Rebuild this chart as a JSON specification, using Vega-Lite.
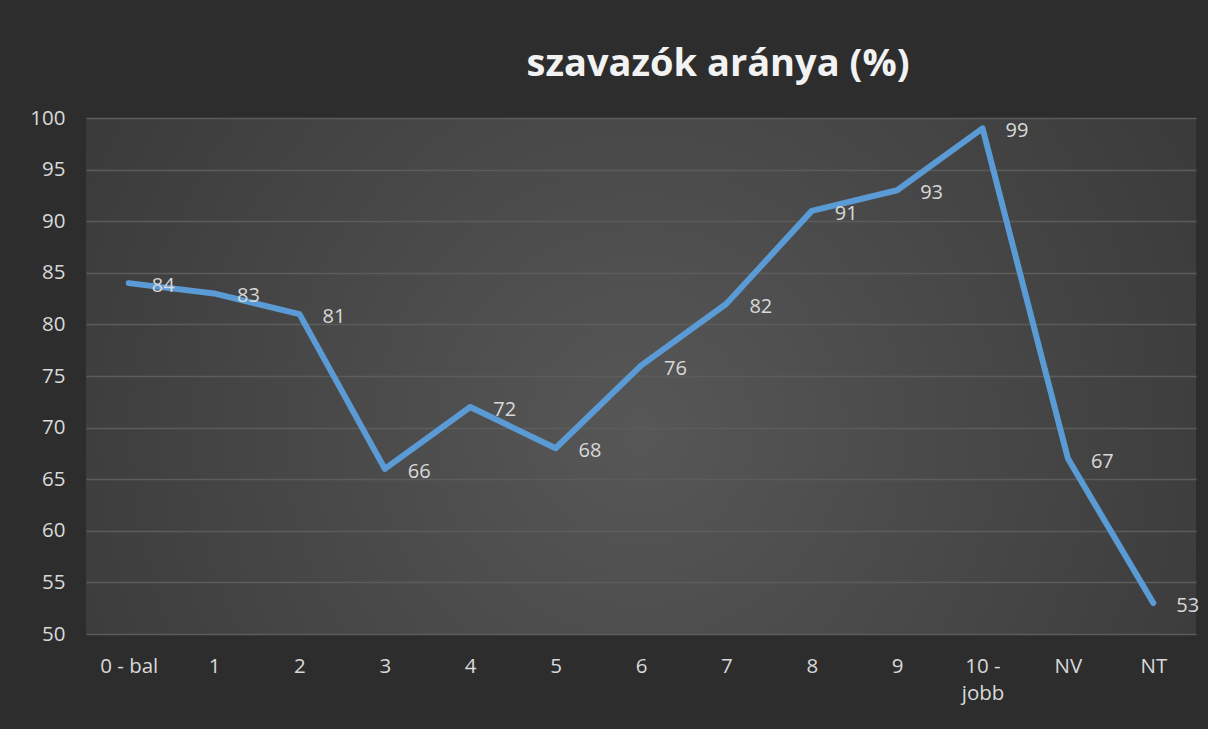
{
  "$schema": "https://vega.github.io/schema/vega-lite/v6.json",
  "width": 1110,
  "height": 516,
  "autosize": {"type": "none"},
  "padding": {"left": 86, "top": 118, "right": 12, "bottom": 95},
  "background": "#2d2d2d",
  "config": {
    "view": {
      "stroke": null,
      "fill": {
        "gradient": "radial",
        "x1": 0.5, "y1": 0.55, "r1": 0,
        "x2": 0.5, "y2": 0.55, "r2": 0.8,
        "stops": [
          {"offset": 0, "color": "#575757"},
          {"offset": 1, "color": "#2f2f2f"}
        ]
      }
    },
    "axis": {
      "labelFont": "Open Sans",
      "labelFontSize": 20.5,
      "labelColor": "#d9d9d9",
      "domain": false,
      "ticks": false,
      "tickSize": 0,
      "title": null
    }
  },
  "title": {
    "text": "szavazók aránya (%)",
    "font": "Open Sans",
    "fontSize": 38,
    "fontWeight": "bold",
    "color": "#f2f2f2",
    "anchor": "middle",
    "frame": "group",
    "baseline": "alphabetic",
    "dx": 77,
    "offset": -6
  },
  "data": {
    "values": [
      {"kategoria": "0 - bal", "arany": 84},
      {"kategoria": "1", "arany": 83},
      {"kategoria": "2", "arany": 81},
      {"kategoria": "3", "arany": 66},
      {"kategoria": "4", "arany": 72},
      {"kategoria": "5", "arany": 68},
      {"kategoria": "6", "arany": 76},
      {"kategoria": "7", "arany": 82},
      {"kategoria": "8", "arany": 91},
      {"kategoria": "9", "arany": 93},
      {"kategoria": "10 - jobb", "arany": 99},
      {"kategoria": "NV", "arany": 67},
      {"kategoria": "NT", "arany": 53}
    ]
  },
  "encoding": {
    "x": {
      "field": "kategoria",
      "type": "ordinal",
      "sort": null,
      "scale": {"type": "point", "padding": 0.5},
      "axis": {
        "labelAngle": 0,
        "labelPadding": 22,
        "labelLineHeight": 27,
        "labelExpr": "datum.value == '10 - jobb' ? ['10 -', 'jobb'] : datum.label",
        "grid": false
      }
    },
    "y": {
      "field": "arany",
      "type": "quantitative",
      "scale": {"domain": [50, 100], "nice": false, "zero": false},
      "axis": {
        "values": [50, 55, 60, 65, 70, 75, 80, 85, 90, 95, 100],
        "labelPadding": 21,
        "grid": true,
        "gridColor": "#5c5c5c",
        "gridWidth": 1.5
      }
    }
  },
  "layer": [
    {
      "mark": {
        "type": "line",
        "color": "#5b9bd5",
        "strokeWidth": 6,
        "strokeCap": "round",
        "strokeJoin": "round"
      }
    },
    {
      "mark": {
        "type": "text",
        "align": "left",
        "baseline": "middle",
        "dx": 23,
        "dy": 3,
        "font": "Open Sans",
        "fontSize": 20,
        "color": "#d9d9d9"
      },
      "encoding": {
        "text": {"field": "arany", "type": "quantitative"}
      }
    }
  ]
}
